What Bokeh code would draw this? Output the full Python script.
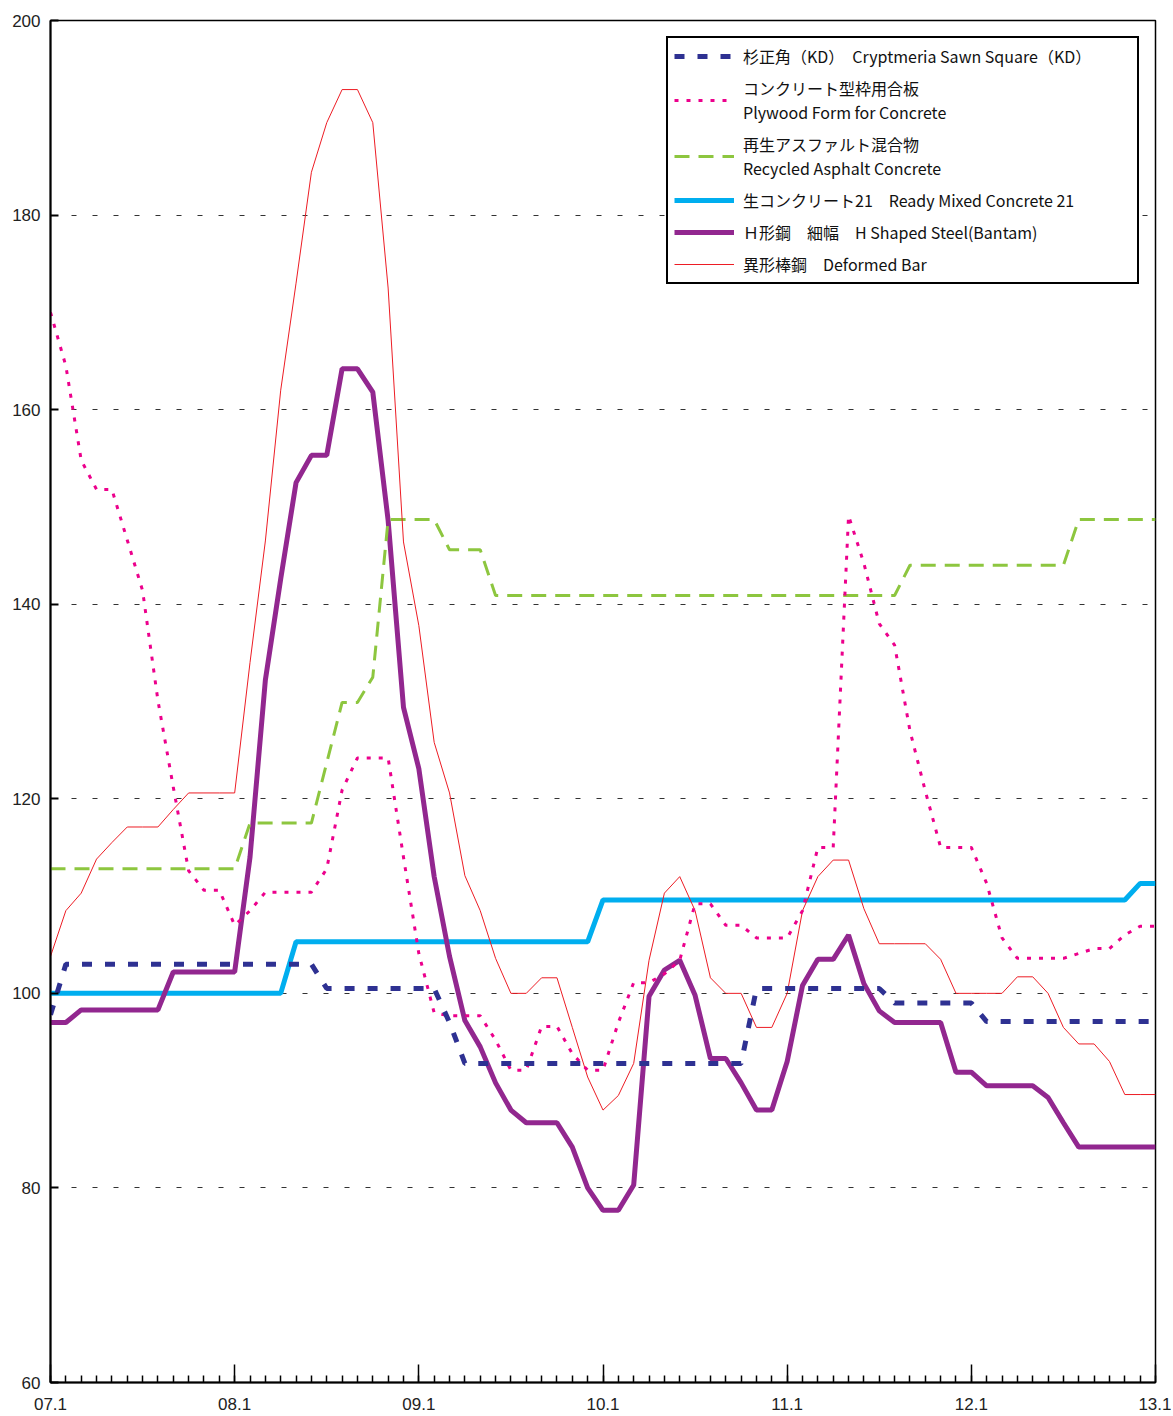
from bokeh.plotting import figure
from bokeh.models import Range1d, FixedTicker, Legend, LegendItem
from bokeh.embed import file_html
from bokeh.resources import INLINE

# ---- data (monthly, Jan 2007 .. Jan 2013) ----
months = list(range(73))
tick_months = [0, 12, 24, 36, 48, 60, 72]
tick_labels = ["07.1", "08.1", "09.1", "10.1", "11.1", "12.1", "13.1"]
y_ticks = [60, 80, 100, 120, 140, 160, 180, 200]

cryptmeria = [
    97.8, 103.0, 103.0, 103.0, 103.0, 103.0, 103.0, 103.0, 103.0, 103.0, 103.0, 103.0,
    103.0, 103.0, 103.0, 103.0, 103.0, 103.0, 100.5, 100.5, 100.5, 100.5, 100.5, 100.5,
    100.5, 100.5, 97.0, 92.8, 92.8, 92.8, 92.8, 92.8, 92.8, 92.8, 92.8, 92.8,
    92.8, 92.8, 92.8, 92.8, 92.8, 92.8, 92.8, 92.8, 92.8, 92.8, 100.5, 100.5,
    100.5, 100.5, 100.5, 100.5, 100.5, 100.5, 100.5, 99.0, 99.0, 99.0, 99.0, 99.0,
    99.0, 97.1, 97.1, 97.1, 97.1, 97.1, 97.1, 97.1, 97.1, 97.1, 97.1, 97.1,
    97.1,
]
plywood = [
    170.0, 164.5, 154.8, 151.8, 151.8, 146.6, 141.4, 130.1, 121.2, 112.6, 110.6, 110.6,
    107.0, 108.5, 110.4, 110.4, 110.4, 110.4, 112.8, 120.9, 124.2, 124.2, 124.2, 114.0,
    104.1, 98.0, 97.7, 97.7, 97.7, 95.2, 92.1, 92.1, 96.6, 96.6, 93.8, 92.1,
    92.1, 97.0, 101.1, 101.1, 102.0, 103.4, 109.2, 109.2, 107.0, 107.0, 105.7, 105.7,
    105.7, 108.5, 115.0, 115.0, 149.1, 144.2, 138.0, 135.8, 127.0, 120.8, 115.0, 115.0,
    115.0, 111.3, 105.7, 103.6, 103.6, 103.6, 103.6, 104.1, 104.6, 104.6, 106.0, 106.9,
    106.9,
]
asphalt = [
    112.8, 112.8, 112.8, 112.8, 112.8, 112.8, 112.8, 112.8, 112.8, 112.8, 112.8, 112.8,
    112.8, 117.5, 117.5, 117.5, 117.5, 117.5, 123.7, 129.9, 129.9, 132.5, 148.7, 148.7,
    148.7, 148.7, 145.6, 145.6, 145.6, 140.9, 140.9, 140.9, 140.9, 140.9, 140.9, 140.9,
    140.9, 140.9, 140.9, 140.9, 140.9, 140.9, 140.9, 140.9, 140.9, 140.9, 140.9, 140.9,
    140.9, 140.9, 140.9, 140.9, 140.9, 140.9, 140.9, 140.9, 144.0, 144.0, 144.0, 144.0,
    144.0, 144.0, 144.0, 144.0, 144.0, 144.0, 144.0, 148.7, 148.7, 148.7, 148.7, 148.7,
    148.7,
]
ready_mixed = [
    100.0, 100.0, 100.0, 100.0, 100.0, 100.0, 100.0, 100.0, 100.0, 100.0, 100.0, 100.0,
    100.0, 100.0, 100.0, 100.0, 105.3, 105.3, 105.3, 105.3, 105.3, 105.3, 105.3, 105.3,
    105.3, 105.3, 105.3, 105.3, 105.3, 105.3, 105.3, 105.3, 105.3, 105.3, 105.3, 105.3,
    109.6, 109.6, 109.6, 109.6, 109.6, 109.6, 109.6, 109.6, 109.6, 109.6, 109.6, 109.6,
    109.6, 109.6, 109.6, 109.6, 109.6, 109.6, 109.6, 109.6, 109.6, 109.6, 109.6, 109.6,
    109.6, 109.6, 109.6, 109.6, 109.6, 109.6, 109.6, 109.6, 109.6, 109.6, 109.6, 111.3,
    111.3,
]
h_steel = [
    97.0, 97.0, 98.3, 98.3, 98.3, 98.3, 98.3, 98.3, 102.2, 102.2, 102.2, 102.2,
    102.2, 114.0, 132.2, 142.6, 152.5, 155.3, 155.3, 164.2, 164.2, 161.8, 148.6, 129.4,
    123.1, 112.0, 103.8, 97.2, 94.5, 90.8, 88.0, 86.7, 86.7, 86.7, 84.2, 80.0,
    77.7, 77.7, 80.3, 99.7, 102.4, 103.4, 99.8, 93.3, 93.3, 90.8, 88.0, 88.0,
    93.0, 100.8, 103.5, 103.5, 106.0, 101.0, 98.2, 97.0, 97.0, 97.0, 97.0, 91.9,
    91.9, 90.5, 90.5, 90.5, 90.5, 89.3, 86.7, 84.2, 84.2, 84.2, 84.2, 84.2,
    84.2,
]
deformed = [
    103.8, 108.5, 110.3, 113.8, 115.5, 117.1, 117.1, 117.1, 118.9, 120.6, 120.6, 120.6,
    120.6, 134.0, 146.5, 162.0, 173.0, 184.4, 189.5, 192.9, 192.9, 189.5, 172.5, 146.4,
    137.8, 125.8, 120.6, 112.1, 108.5, 103.6, 100.0, 100.0, 101.6, 101.6, 96.5, 91.4,
    88.0, 89.5, 92.8, 103.4, 110.3, 112.0, 108.5, 101.6, 100.0, 100.0, 96.5, 96.5,
    100.0, 108.5, 112.0, 113.7, 113.7, 108.7, 105.1, 105.1, 105.1, 105.1, 103.5, 100.0,
    100.0, 100.0, 100.0, 101.7, 101.7, 100.0, 96.5, 94.8, 94.8, 93.0, 89.6, 89.6,
    89.6,
]

labels = [
    "杉正角（KD）　Cryptmeria Sawn Square（KD）",
    "コンクリート型枠用合板\nPlywood Form for Concrete",
    "再生アスファルト混合物\nRecycled Asphalt Concrete",
    "生コンクリート21　Ready Mixed Concrete 21",
    "Ｈ形鋼　細幅　H Shaped Steel(Bantam)",
    "異形棒鋼　Deformed Bar",
]

FONT = "Noto Sans CJK JP"

p = figure(
    frame_width=1105, frame_height=1362,
    min_border_left=50, min_border_right=16, min_border_top=20, min_border_bottom=32,
    x_range=Range1d(0, 72), y_range=Range1d(60, 200),
    output_backend="svg", toolbar_location=None,
    background_fill_color="white", border_fill_color="white",
)
p.outline_line_color = "black"
p.outline_line_width = 1.5

# axes
xa = p.xaxis[0]
xa.ticker = FixedTicker(ticks=tick_months, minor_ticks=months)
xa.major_label_overrides = {m: t for m, t in zip(tick_months, tick_labels)}
xa.major_tick_in = 18
xa.major_tick_out = 0
xa.minor_tick_in = 7
xa.minor_tick_out = 0
xa.axis_line_width = 2
xa.major_tick_line_width = 1.5
xa.minor_tick_line_width = 1.5
xa.major_label_standoff = 15
xa.major_label_text_font = "Liberation Sans"
xa.major_label_text_font_size = "17px"
xa.major_label_text_color = "#222222"

ya = p.yaxis[0]
ya.ticker = FixedTicker(ticks=y_ticks)
ya.major_tick_in = 8
ya.major_tick_out = 0
ya.minor_tick_line_color = None
ya.axis_line_width = 2
ya.major_tick_line_width = 2
ya.major_label_standoff = 10
ya.major_label_text_font = "Liberation Sans"
ya.major_label_text_font_size = "17px"
ya.major_label_text_color = "#222222"

p.xgrid.grid_line_color = None
p.ygrid.grid_line_color = "#333333"
p.ygrid.grid_line_dash = "5 16"
p.ygrid.grid_line_width = 1

# series
r_cyan = p.line(months, ready_mixed, line_color="#00AEEF", line_width=5)
r_purple = p.line(months, h_steel, line_color="#92278F", line_width=5)
r_green = p.line(months, asphalt, line_color="#8DC63F", line_width=3, line_dash="15 9")
r_red = p.line(months, deformed, line_color="#ED1C24", line_width=1)
r_pink = p.line(months, plywood, line_color="#EC008C", line_width=3, line_dash="4 8")
r_navy = p.line(months, cryptmeria, line_color="#2E3192", line_width=5, line_dash="10 13")

legend = Legend(
    items=[
        LegendItem(label=labels[0], renderers=[r_navy]),
        LegendItem(label=labels[1], renderers=[r_pink]),
        LegendItem(label=labels[2], renderers=[r_green]),
        LegendItem(label=labels[3], renderers=[r_cyan]),
        LegendItem(label=labels[4], renderers=[r_purple]),
        LegendItem(label=labels[5], renderers=[r_red]),
    ],
    location="top_right",
    margin=16,
    padding=6,
    spacing=8,
    glyph_width=60,
    glyph_height=20,
    label_standoff=9,
    label_width=388,
    label_text_font=FONT,
    label_text_font_size="16px",
    label_text_line_height=1.4,
    label_text_color="#111111",
    border_line_color="black",
    border_line_alpha=1.0,
    border_line_width=2,
    background_fill_color="white",
    background_fill_alpha=1.0,
)
p.add_layout(legend)

open("out.html", "w").write(file_html(p, INLINE))
